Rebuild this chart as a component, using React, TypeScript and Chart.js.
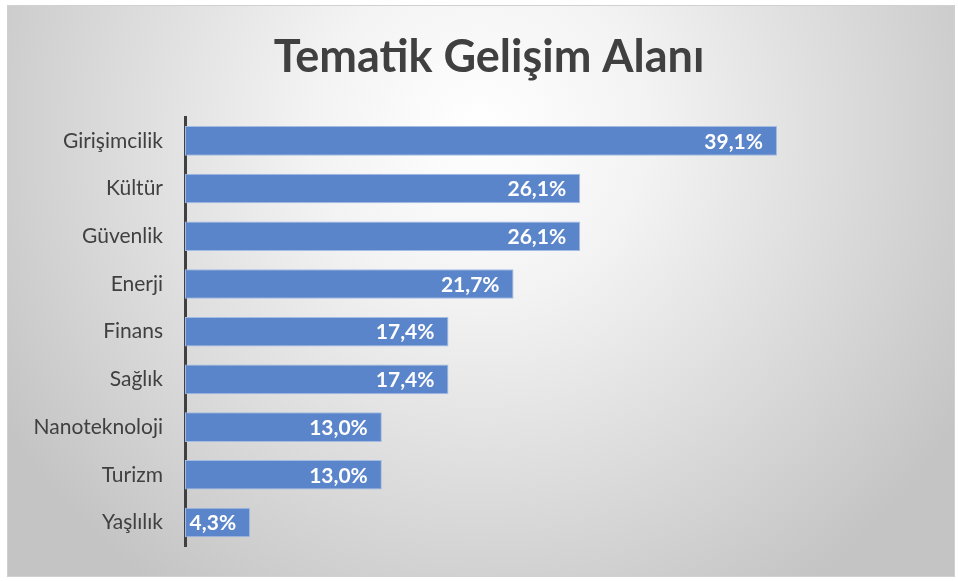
import React, { useEffect, useRef } from "react";
import { Chart, registerables } from "chart.js";

Chart.register(...registerables);

const categories = [
  "Girişimcilik",
  "Kültür",
  "Güvenlik",
  "Enerji",
  "Finans",
  "Sağlık",
  "Nanoteknoloji",
  "Turizm",
  "Yaşlılık",
];
const values = [39.1, 26.1, 26.1, 21.7, 17.4, 17.4, 13.0, 13.0, 4.3];
const titleText = "Tematik Gelişim Alanı";
const FONT = "Lato, 'Open Sans', sans-serif";

const bgPlugin = {
  id: "bgPlugin",
  beforeDraw(chart: any) {
    const { ctx, width, height } = chart;
    ctx.save();
    ctx.fillStyle = "#ffffff";
    ctx.fillRect(0, 0, width, height);
    const x0 = 7, y0 = 5, x1 = 955, y1 = 577;
    const g = ctx.createRadialGradient(480, 130, 0, 480, 130, 560);
    g.addColorStop(0, "#ffffff");
    g.addColorStop(0.3, "#f3f3f3");
    g.addColorStop(1, "#c4c4c4");
    ctx.fillStyle = g;
    ctx.fillRect(x0, y0, x1 - x0, y1 - y0);
    ctx.strokeStyle = "#d0d0d0";
    ctx.lineWidth = 1;
    ctx.strokeRect(x0 + 0.5, y0 + 0.5, x1 - x0 - 1, y1 - y0 - 1);
    ctx.fillStyle = "#404040";
    ctx.font = `bold 45px ${FONT}`;
    ctx.textAlign = "center";
    ctx.textBaseline = "middle";
    ctx.fillText(titleText, 489, 57);
    ctx.restore();
  },
};

const labelPlugin = {
  id: "labelPlugin",
  afterDatasetsDraw(chart: any) {
    const { ctx } = chart;
    const meta = chart.getDatasetMeta(0);
    ctx.save();
    ctx.fillStyle = "#ffffff";
    ctx.font = `bold 21px ${FONT}`;
    ctx.textAlign = "right";
    ctx.textBaseline = "middle";
    meta.data.forEach((bar: any, i: number) => {
      const txt = values[i].toFixed(1).replace(".", ",") + "%";
      ctx.fillText(txt, bar.x - 14, bar.y + 1);
    });
    ctx.restore();
  },
};

export default function App() {
  const ref = useRef<HTMLCanvasElement | null>(null);
  useEffect(() => {
    if (!ref.current) return;
    const chart = new Chart(ref.current, {
      type: "bar",
      data: {
        labels: categories,
        datasets: [
          {
            data: values,
            backgroundColor: "#5b85cb",
            borderColor: "#a4bbe3",
            borderWidth: 1,
            borderSkipped: false,
            barPercentage: 0.62,
            categoryPercentage: 1,
          },
        ],
      },
      options: {
        indexAxis: "y",
        responsive: false,
        animation: false,
        layout: { padding: { top: 117, bottom: 30, right: 19, left: 0 } },
        plugins: {
          legend: { display: false },
          tooltip: { enabled: false },
          title: { display: false },
        },
        scales: {
          x: { display: false, min: 0, max: 49.8 },
          y: {
            afterFit: (s: any) => {
              s.width = 185;
            },
            grid: { display: false, drawTicks: false },
            border: { display: true, color: "#404040", width: 3 },
            ticks: {
              color: "#404040",
              padding: 22,
              font: { family: FONT, size: 21 },
            },
          },
        },
      },
      plugins: [bgPlugin, labelPlugin],
    });
    return () => chart.destroy();
  }, []);
  return (
    <div style={{ position: "fixed", left: 0, top: 0, width: 958, height: 581 }}>
      <canvas ref={ref} width={958} height={581} />
    </div>
  );
}
